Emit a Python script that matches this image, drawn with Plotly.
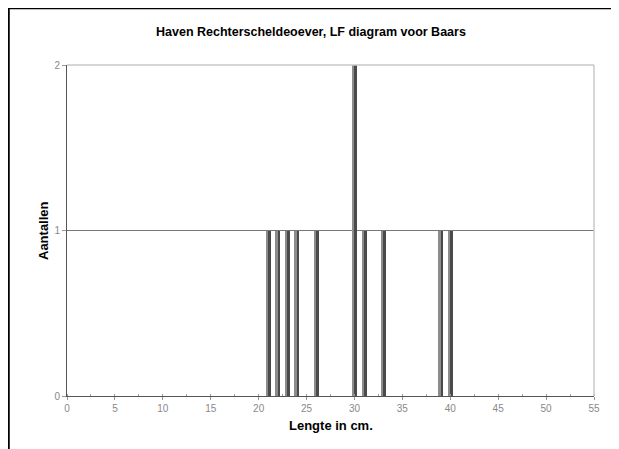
import plotly.graph_objects as go

lengths = [21, 22, 23, 24, 26, 30, 31, 33, 39, 40]
counts = [1, 1, 1, 1, 1, 2, 1, 1, 1, 1]
x_ticks = [0, 5, 10, 15, 20, 25, 30, 35, 40, 45, 50, 55]
y_ticks = [0, 1, 2]

title_text = "Haven Rechterscheldeoever, LF diagram voor Baars"
x_title = "Lengte in cm."
y_title = "Aantallen"

fig = go.Figure()
fig.add_trace(go.Bar(x=lengths, y=counts, width=0.52, marker=dict(color="#8c8c8c", line=dict(width=0)), hoverinfo="x+y"))
fig.add_trace(go.Bar(x=lengths, y=counts, width=0.26, offset=0, marker=dict(color="#4a4a4a", line=dict(width=0)), hoverinfo="skip"))

OFF = 8  # page body margin
W, H = 619, 449
SL, SR, ST, SB = 67, 594, 65, 396
L = SL - OFF
T = ST - OFF
R = W - (SR - OFF)
B = H - (SB - OFF)
pw, ph = W - L - R, H - T - B

def px(x):
    return (x - OFF - L) / pw

def py(y):
    return (H - B - (y - OFF)) / ph

fig.update_layout(
    width=W, height=H,
    margin=dict(l=L, r=R, t=T, b=B),
    paper_bgcolor="white", plot_bgcolor="white",
    barmode="overlay", bargap=0, showlegend=False,
    font=dict(family="Liberation Sans, Arial, sans-serif", color="#000"),
    xaxis=dict(range=[0, 55], tickvals=x_ticks, ticks="outside", ticklen=3, tickcolor="#999",
               tickfont=dict(size=10, color="#888"), showgrid=False, zeroline=False,
               showline=True, linecolor="#555", linewidth=1, mirror=False,
               minor=dict(dtick=2.5, ticks="inside", ticklen=2, tickcolor="#999")),
    yaxis=dict(range=[0, 2], tickvals=y_ticks, ticks="outside", ticklen=4, tickcolor="#999",
               tickfont=dict(size=10, color="#888"), showgrid=True, gridcolor="#777", gridwidth=1,
               zeroline=False, showline=True, linecolor="#555", linewidth=1),
    shapes=[
        dict(type="line", xref="paper", yref="paper", x0=0, x1=1, y0=1, y1=1, line=dict(color="#c8c8c8", width=1.5)),
        dict(type="line", xref="paper", yref="paper", x0=1, x1=1, y0=0, y1=1, line=dict(color="#c8c8c8", width=1.5)),
        dict(type="line", xref="paper", yref="paper", x0=px(8), x1=px(640), y0=py(8), y1=py(8), line=dict(color="#000", width=2.5)),
        dict(type="line", xref="paper", yref="paper", x0=px(8.5), x1=px(8.5), y0=py(8), y1=py(470), line=dict(color="#000", width=2.5)),
    ],
    annotations=[
        dict(text="<b>" + title_text + "</b>", xref="paper", yref="paper", x=px(311), y=py(32),
             showarrow=False, font=dict(size=12.5), xanchor="center", yanchor="middle"),
        dict(text="<b>" + x_title + "</b>", xref="paper", yref="paper", x=px(331), y=py(425),
             showarrow=False, font=dict(size=13), xanchor="center", yanchor="middle"),
        dict(text="<b>" + y_title + "</b>", xref="paper", yref="paper", x=px(43), y=py(231),
             showarrow=False, font=dict(size=13), textangle=-90, xanchor="center", yanchor="middle"),
    ],
)

fig.write_html("out.html")
